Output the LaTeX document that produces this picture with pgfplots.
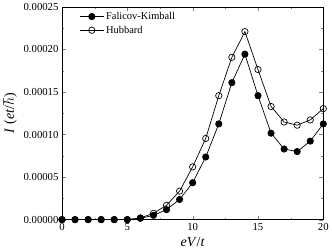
\documentclass[border=0pt]{standalone}
\usepackage{fontspec}
\setmainfont{Liberation Serif}
\usepackage{pgfplots}
\pgfplotsset{compat=1.18}
\begin{document}
\begin{tikzpicture}
\begin{axis}[
  scale only axis,
  width=263pt, height=214pt,
  xmin=0, xmax=20, ymin=0, ymax=0.00025,
  xtick={0,5,10,15,20},
  ytick={0,0.00005,0.0001,0.00015,0.0002,0.00025},
  minor x tick num=1, minor y tick num=1,
  tick align=inside,
  major tick length=4pt, minor tick length=2pt,
  scaled y ticks=false,
  /pgf/number format/assume math mode=true,
  yticklabel style={/pgf/number format/fixed, /pgf/number format/precision=5, /pgf/number format/fixed zerofill},
  tick label style={font=\fontsize{10.8}{12}\selectfont},
  xlabel={\textit{eV}/\textit{t}},
  ylabel={\textit{I} (\textit{et}/$\hbar$)},
  label style={font=\fontsize{14}{16}\selectfont},
  legend style={at={(0.055,0.995)}, anchor=north west, draw=none, fill=none, font=\fontsize{10.5}{12}\selectfont, row sep=1pt},
  legend cell align=left,
  legend image code/.code={\draw[mark repeat=2, mark phase=2, #1] plot coordinates {(0pt,0pt)(12pt,0pt)(24pt,0pt)};},
  every axis plot/.append style={line width=0.7pt},
  reverse legend,
]
\addplot[black, mark=o, mark size=3.2pt, mark options={fill=white, solid}] coordinates {
(0,0)(1,0)(2,0)(3,0)(4,0)(5,0)(6,0.000002)(7,0.0000074)(8,0.0000168)(9,0.0000335)(10,0.000062)
(11,0.0000954)(12,0.0001457)(13,0.0001908)(14,0.000221)(15,0.0001764)(16,0.000133)(17,0.0001148)
(18,0.000111)(19,0.0001172)(20,0.0001305)};
\addlegendentry{Hubbard}
\addplot[black, mark=*, mark size=3.2pt] coordinates {
(0,0)(1,0)(2,0)(3,0)(4,0)(5,0)(6,0.0000015)(7,0.000005)(8,0.0000117)(9,0.0000237)(10,0.0000434)
(11,0.0000736)(12,0.0001125)(13,0.000161)(14,0.0001945)(15,0.0001457)(16,0.0001016)(17,0.000083)
(18,0.00008)(19,0.0000923)(20,0.0001125)};
\addlegendentry{Falicov-Kimball}
\end{axis}
\end{tikzpicture}
\end{document}
